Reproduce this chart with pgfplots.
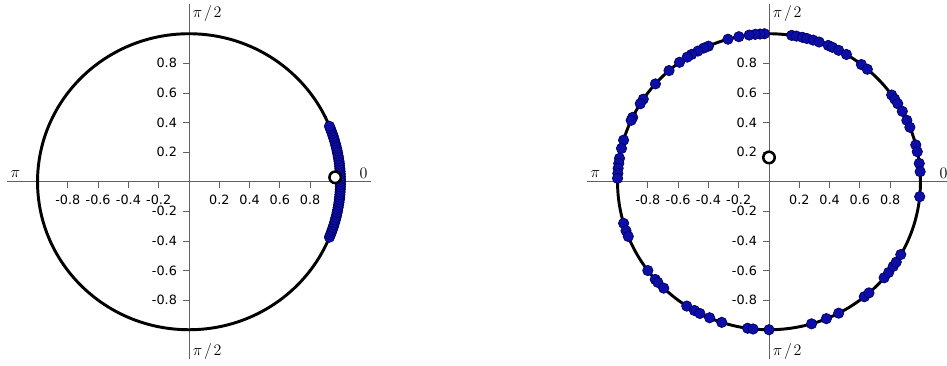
\documentclass[border=0pt]{standalone}
\usepackage{pgfplots}
\pgfplotsset{compat=1.18}
\usepackage{fontspec}
\newfontfamily\tickfont{DejaVu Sans}
\definecolor{ptblue}{rgb}{0.05,0.05,0.66}
\definecolor{ptedge}{rgb}{0.0,0.0,0.36}
\definecolor{axgray}{rgb}{0.38,0.38,0.38}

\pgfplotsset{
  circax/.style={
    set layers,
    x=113.6pt, y=111pt,
    xmin=-1.2, xmax=1.2, ymin=-1.2, ymax=1.2,
    axis lines=middle,
    axis line style={-, draw=axgray, line width=0.7pt},
    every inner x axis line/.append style={-},
    every inner y axis line/.append style={-},
    xtick={-0.8,-0.6,-0.4,-0.2,0.2,0.4,0.6,0.8},
    ytick={-0.8,-0.6,-0.4,-0.2,0.2,0.4,0.6,0.8},
    xticklabels={-0.8,-0.6,-0.4,-0.2,0.2,0.4,0.6,0.8},
    yticklabels={-0.8,-0.6,-0.4,-0.2,0.2,0.4,0.6,0.8},
    tick align=outside,
    major tick length=4.5pt,
    tick style={draw=axgray, line width=0.6pt},
    ticklabel style={font=\tickfont\fontsize{9.6}{11}\selectfont},
    xticklabel style={yshift=-2pt},
    yticklabel style={xshift=-1pt},
    clip=false,
    anchor=center,
  },
  ptmarks/.style={only marks, mark=*, mark size=3.9pt,
    mark options={fill=ptblue, draw=ptedge, line width=0.5pt}},
  meanmark/.style={only marks, mark=*, mark size=4.3pt, on layer=axis foreground,
    mark options={fill=white, draw=black, line width=1.9pt}},
}

\newcommand{\circlabels}{%
  \node[anchor=north west, inner sep=0pt] at (axis cs:0.024,1.195) {\fontsize{13}{15}\selectfont$\pi\mkern2mu/\mkern2mu2$};
  \node[anchor=south west, inner sep=0pt] at (axis cs:0.024,-1.2) {\fontsize{13}{15}\selectfont$\pi\mkern2mu/\mkern2mu2$};
  \node[anchor=south west, inner sep=0pt] at (axis cs:-1.18,0.03) {\fontsize{13}{15}\selectfont$\pi$};
  \node[anchor=south east, inner sep=0pt] at (axis cs:1.18,0.02) {\fontsize{13}{15}\selectfont$0$};
}

\begin{document}
\begin{tikzpicture}
% ---------------- left: concentrated sample ----------------
\begin{axis}[circax, at={(141.75pt,0pt)}]
\addplot[ptmarks] table {
x y
0.9272 -0.3746
0.9336 -0.3584
0.9397 -0.3420
0.9455 -0.3256
0.9511 -0.3090
0.9563 -0.2924
0.9613 -0.2756
0.9659 -0.2588
0.9703 -0.2419
0.9744 -0.2250
0.9781 -0.2079
0.9816 -0.1908
0.9848 -0.1736
0.9877 -0.1564
0.9903 -0.1392
0.9925 -0.1219
0.9945 -0.1045
0.9962 -0.0872
0.9976 -0.0698
0.9986 -0.0523
0.9994 -0.0349
0.9998 -0.0175
1.0000 0.0000
0.9998 0.0175
0.9994 0.0349
0.9986 0.0523
0.9976 0.0698
0.9962 0.0872
0.9945 0.1045
0.9925 0.1219
0.9903 0.1392
0.9877 0.1564
0.9848 0.1736
0.9816 0.1908
0.9781 0.2079
0.9744 0.2250
0.9703 0.2419
0.9659 0.2588
0.9613 0.2756
0.9563 0.2924
0.9511 0.3090
0.9455 0.3256
0.9397 0.3420
0.9336 0.3584
0.9272 0.3746
};
\draw[line width=2.2pt, on layer=axis foreground] (axis cs:0,0) ellipse [x radius=1, y radius=1];
\addplot[meanmark] coordinates {(0.965,0.03)};
\circlabels
\end{axis}

% ---------------- right: spread sample ----------------
\begin{axis}[circax, at={(576.75pt,0pt)}]
\addplot[ptmarks] table {
x y
-0.030 1.000
-0.059 0.998
-0.091 0.996
-0.131 0.991
-0.199 0.980
-0.271 0.963
-0.400 0.916
-0.431 0.903
-0.469 0.883
-0.511 0.860
-0.540 0.842
-0.591 0.807
-0.660 0.751
-0.750 0.661
-0.830 0.558
-0.850 0.527
-0.900 0.435
-0.910 0.415
-0.960 0.281
-0.974 0.225
-0.987 0.158
-0.992 0.124
-0.996 0.091
-0.998 0.056
-1.000 0.023
0.150 0.989
0.181 0.984
0.220 0.976
0.250 0.968
0.291 0.957
0.331 0.944
0.391 0.921
0.419 0.908
0.460 0.888
0.511 0.860
0.610 0.792
0.649 0.760
0.810 0.586
0.830 0.558
0.850 0.527
0.880 0.476
0.910 0.415
0.930 0.368
0.969 0.249
0.979 0.203
0.992 0.124
0.998 0.068
0.995 -0.101
-0.960 -0.281
-0.944 -0.331
-0.929 -0.370
-0.800 -0.600
-0.751 -0.660
-0.734 -0.680
-0.695 -0.719
-0.543 -0.840
-0.492 -0.870
-0.456 -0.890
-0.392 -0.919
-0.312 -0.950
-0.141 -0.990
-0.105 -0.995
0.000 -1.000
0.281 -0.960
0.379 -0.925
0.460 -0.888
0.629 -0.777
0.660 -0.751
0.760 -0.649
0.790 -0.613
0.820 -0.572
0.840 -0.543
0.870 -0.492
};
\draw[line width=2.2pt, on layer=axis foreground] (axis cs:0,0) ellipse [x radius=1, y radius=1];
\addplot[meanmark] coordinates {(0.0,0.164)};
\circlabels
\end{axis}

\pgfresetboundingbox
\path[use as bounding box] (0pt,136.3pt) rectangle (710.25pt,-137.5pt);
\end{tikzpicture}
\end{document}
